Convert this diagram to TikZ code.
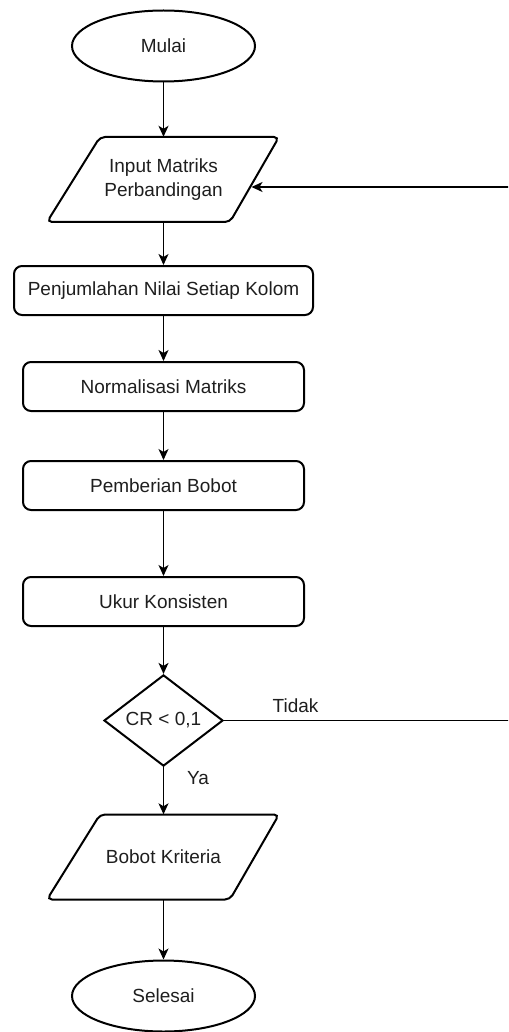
\documentclass[tikz,border=0pt]{standalone}
\usepackage{fontspec}
\setmainfont{Liberation Sans}
\usetikzlibrary{shapes.geometric,arrows.meta,calc}

\definecolor{ink}{RGB}{30,30,30}

\begin{document}
\begin{tikzpicture}[x=1pt,y=-1pt,
  font=\fontsize{19}{24.5}\selectfont,
  every node/.style={text=ink},
  shapeline/.style={draw=black,line width=2pt},
  terminal/.style={shapeline,ellipse,minimum width=183pt,minimum height=71pt,inner sep=0pt},
  process/.style={shapeline,rectangle,rounded corners=8pt,minimum height=49pt,minimum width=281pt,inner sep=0pt},
  iobox/.style={rectangle,minimum width=183pt,minimum height=85pt,inner sep=0pt,align=center},
  decision/.style={shapeline,diamond,minimum width=119pt,minimum height=75pt,inner sep=0pt},
  flow/.style={draw=black,line width=1.4pt,-{Stealth[length=11pt,width=10pt,inset=3pt]}},
  plainflow/.style={draw=black,line width=1.4pt},
  lbl/.style={inner sep=0pt}
]
\useasboundingbox (0,0) rectangle (508,1032);
\clip (0,0) rectangle (508,1032);

% terminals
\node[terminal] (mulai) at (163.5,46) {Mulai};
\node[terminal] (selesai) at (163.5,996) {Selesai};

% input / output parallelograms (text nodes, outlines drawn below)
\node[iobox] (input) at (163.5,179.5) {Input Matriks\\Perbandingan};
\node[iobox] (bobot) at (163.5,857) {Bobot Kriteria};
\foreach \n in {input,bobot}{
  \draw[shapeline,rounded corners=5pt]
    ($(\n.center)+(-63.5,-42.5)$) -- ($(\n.center)+(115.5,-42.5)$) --
    ($(\n.center)+(66.5,42.5)$) -- ($(\n.center)+(-116.5,42.5)$) -- cycle;
}

% process steps
\node[process,minimum width=299pt] (jumlah) at (163.5,290.5) {Penjumlahan Nilai Setiap Kolom};
\node[process] (norm) at (163.5,386.5) {Normalisasi Matriks};
\node[process] (beri) at (163.5,485.5) {Pemberian Bobot};
\node[process] (ukur) at (163.5,601.5) {Ukur Konsisten};

% decision
\node[decision] (cr) at (163.5,720.5) {CR < 0,1};

% connectors
\draw[flow] (mulai.south) -- (input.north);
\draw[flow] (input.south) -- (jumlah.north);
\draw[flow] (jumlah.south) -- (norm.north);
\draw[flow] (norm.south) -- (beri.north);
\draw[flow] (beri.south) -- (ukur.north);
\draw[flow] (ukur.south) -- (cr.north);
\draw[flow] (cr.south) -- (bobot.north);
\draw[flow] (bobot.south) -- (selesai.north);

% "Tidak" branch loops back to the input step
\coordinate (back) at ($(input.center)+(88,7.5)$);
\coordinate (loopA) at (515,720.5);
\coordinate (loopB) at (515,187);
\draw[plainflow] (cr.east) -- (loopA) -- (loopB);
\draw[flow] (loopB) -- (back);

% branch labels
\node[lbl] (tidak) at (295.5,706) {Tidak};
\node[lbl] (ya) at (198,778) {Ya};
\end{tikzpicture}
\end{document}
